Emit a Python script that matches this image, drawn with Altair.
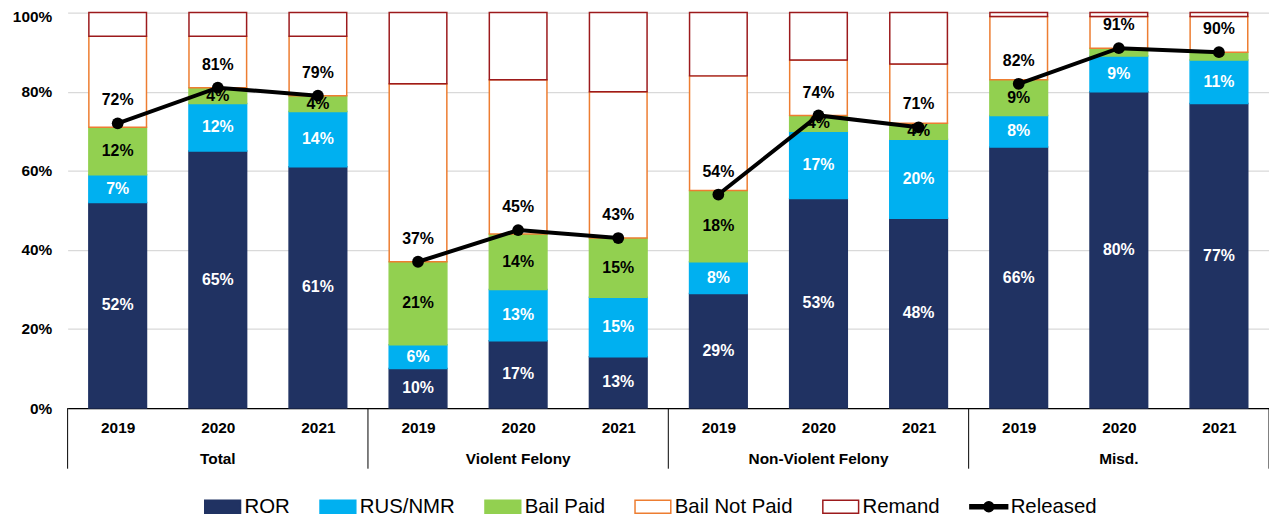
import altair as alt
import pandas as pd

groups = ["Total", "Violent Felony", "Non-Violent Felony", "Misd."]
years = ["2019", "2020", "2021"]

ror = [52, 65, 61, 10, 17, 13, 29, 53, 48, 66, 80, 77]
rus = [7, 12, 14, 6, 13, 15, 8, 17, 20, 8, 9, 11]
bail_paid = [12, 4, 4, 21, 14, 15, 18, 4, 4, 9, 2, 2]
bail_not_paid = [23, 13, 15, 45, 39, 37, 29, 14, 15, 16, 8, 9]
remand = [6, 6, 6, 18, 17, 20, 16, 12, 13, 1, 1, 1]
released = [72, 81, 79, 37, 45, 43, 54, 74, 71, 82, 91, 90]

series = ["ROR", "RUS/NMR", "Bail Paid", "Bail Not Paid", "Remand", "Released"]
fills = ["#203262", "#00B0F0", "#92D050", "#FFFFFF", "#FFFFFF", "#000000"]
strokes = ["#203262", "#00B0F0", "#92D050", "#ED7D31", "#9C1A1C", "#000000"]
rect_path = "M-1.8,-0.65H1.8V0.65H-1.8Z"
line_path = ("M-1.9,-0.2H1.9V0.2H-1.9Z "
             "M-0.5,0A0.5,0.5 0 1,1 0.5,0A0.5,0.5 0 1,1 -0.5,0Z")
shapes = [rect_path] * 5 + [line_path]

FONT = "Liberation Sans"

rows = []
for i in range(12):
    vals = [ror[i], rus[i], bail_paid[i], bail_not_paid[i], remand[i]]
    base = 0
    for k, v in enumerate(vals):
        rows.append({
            "idx": i + 0.5, "series": series[k], "order": k,
            "y0": base, "y1": base + v, "mid": base + v / 2,
            "value": v, "label": f"{v}%",
        })
        base += v
bars_df = pd.DataFrame(rows)

line_df = pd.DataFrame({
    "idx": [i + 0.5 for i in range(12)],
    "grp": [groups[i // 3] for i in range(12)],
    "released": released,
    "label": [f"{v}%" for v in released],
})
group_df = pd.DataFrame({"gx": [1.5, 4.5, 7.5, 10.5], "group": groups})
sep_df = pd.DataFrame({"sx": [0, 3, 6, 9, 12]})
legend_df = pd.DataFrame({"series": series, "idx": [0.5] * 6, "released": [0] * 6})

W, H = 1209, 398
xscale = alt.Scale(domain=[0, 12], nice=False, zero=False, padding=0)
yscale = alt.Scale(domain=[0, 100], nice=False)

color_scale_fill = alt.Scale(domain=series, range=fills)
color_scale_stroke = alt.Scale(domain=series, range=strokes)
shape_scale = alt.Scale(domain=series, range=shapes)


def leg():
    return alt.Legend(title=None, orient="none", direction="horizontal",
                      legendX=145, legendY=486,
                      labelFont=FONT, labelFontSize=20.5,
                      labelColor="#000000", symbolSize=400,
                      symbolStrokeWidth=1.5, labelOffset=11,
                      columnPadding=27, symbolOpacity=1,
                      labelLimit=300)


year_expr = "['2019','2020','2021'][floor(datum.value) % 3]"

bars = alt.Chart(bars_df).mark_bar(width=58, strokeWidth=1.5).encode(
    x=alt.X("idx:Q", scale=xscale,
            axis=alt.Axis(values=[i + 0.5 for i in range(12)], labelExpr=year_expr,
                          title=None, grid=False, ticks=False, domain=True,
                          domainColor="#000000", domainWidth=1.2,
                          labelFont=FONT, labelFontSize=15.5, labelFontWeight="bold",
                          labelColor="#000000", labelPadding=13)),
    y=alt.Y("y0:Q", scale=yscale,
            axis=alt.Axis(values=[0, 20, 40, 60, 80, 100], labelExpr="datum.value + '%'",
                          title=None, grid=True, gridColor="#D9D9D9", gridWidth=1.2,
                          ticks=False, domain=False, labelFont=FONT, labelFontSize=15.5,
                          labelFontWeight="bold", labelColor="#000000", labelPadding=16,
                          labelOffset={"condition": {"test": "datum.value == 100", "value": 4},
                                       "value": 0})),
    y2="y1:Q",
    fill=alt.Fill("series:N", scale=color_scale_fill, legend=leg()),
    stroke=alt.Stroke("series:N", scale=color_scale_stroke, legend=leg()),
    order=alt.Order("order:Q"),
)

seg_labels = alt.Chart(bars_df).transform_filter(
    "datum.order < 3 && datum.value >= 3"
).mark_text(font=FONT, fontSize=16, fontWeight="bold", baseline="middle").encode(
    x=alt.X("idx:Q", scale=xscale),
    y=alt.Y("mid:Q", scale=yscale),
    text="label:N",
    color=alt.condition("datum.order < 2", alt.value("#FFFFFF"), alt.value("#000000")),
)

line = alt.Chart(line_df).mark_line(color="#000000", strokeWidth=4).encode(
    x=alt.X("idx:Q", scale=xscale),
    y=alt.Y("released:Q", scale=yscale),
    detail="grp:N",
)
points = alt.Chart(line_df).mark_point(filled=True, color="#000000", size=140, opacity=1).encode(
    x=alt.X("idx:Q", scale=xscale),
    y=alt.Y("released:Q", scale=yscale),
)
rel_labels = alt.Chart(line_df).mark_text(
    font=FONT, fontSize=16, fontWeight="bold", dy=-23, color="#000000", baseline="middle"
).encode(
    x=alt.X("idx:Q", scale=xscale),
    y=alt.Y("released:Q", scale=yscale),
    text="label:N",
)

seps = alt.Chart(sep_df).mark_rule(color="#000000", strokeWidth=1).encode(
    x=alt.X("sx:Q", scale=xscale),
    y=alt.value(H),
    y2=alt.value(H + 61),
)
group_labels = alt.Chart(group_df).mark_text(
    font=FONT, fontSize=15.5, fontWeight="bold", color="#000000", baseline="middle"
).encode(
    x=alt.X("gx:Q", scale=xscale),
    y=alt.value(H + 51),
    text="group:N",
)

legend_layer = alt.Chart(legend_df).mark_point(
    filled=True, opacity=0, strokeWidth=1.5
).encode(
    x=alt.X("idx:Q", scale=xscale),
    y=alt.Y("released:Q", scale=yscale),
    fill=alt.Fill("series:N", scale=color_scale_fill, legend=leg()),
    stroke=alt.Stroke("series:N", scale=color_scale_stroke, legend=leg()),
    shape=alt.Shape("series:N", scale=shape_scale, legend=leg()),
)

chart = alt.layer(
    bars, seg_labels, line, points, rel_labels, seps, group_labels, legend_layer
).resolve_scale(
    fill="shared", stroke="shared", shape="shared"
).properties(
    width=W, height=H,
    autosize=alt.AutoSizeParams(type="none"),
    padding={"left": 60, "top": 3, "right": 0, "bottom": 110},
).configure_view(stroke=None)

chart.save("out.html", embed_options={"renderer": "svg", "actions": False})
